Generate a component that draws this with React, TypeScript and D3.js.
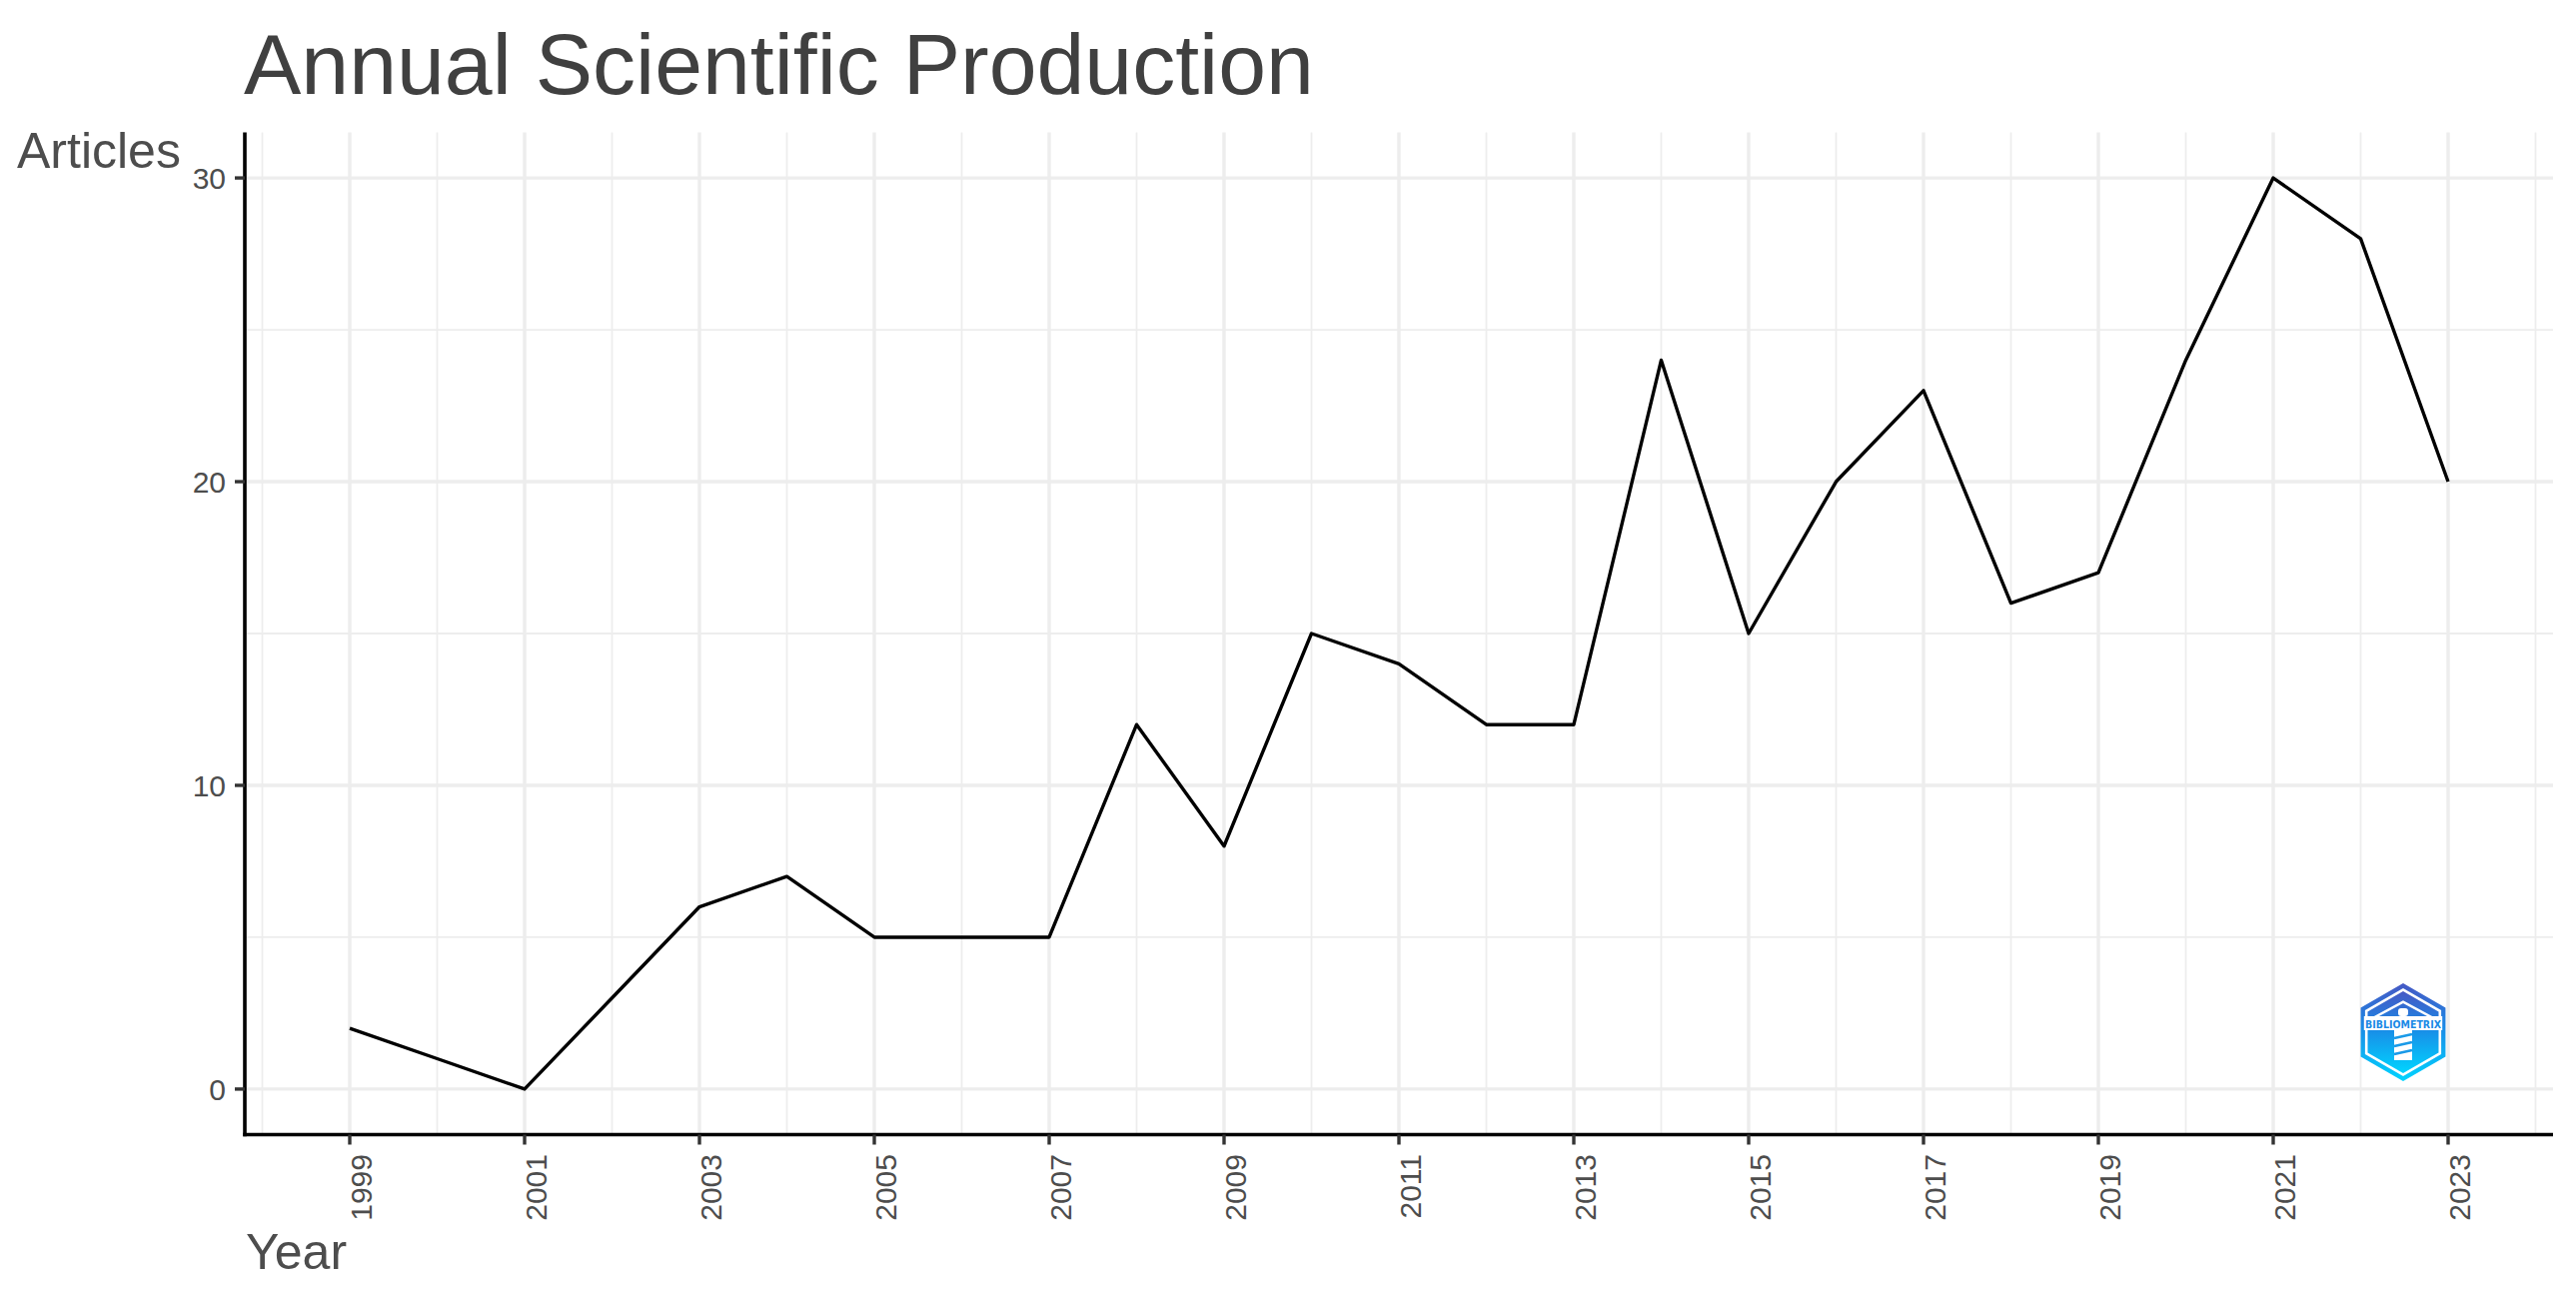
import * as d3 from "d3";

const years = [1999, 2000, 2001, 2002, 2003, 2004, 2005, 2006, 2007, 2008, 2009, 2010, 2011, 2012, 2013, 2014, 2015, 2016, 2017, 2018, 2019, 2020, 2021, 2022, 2023];
const articles = [2, 1, 0, 3, 6, 7, 5, 5, 5, 12, 8, 15, 14, 12, 12, 24, 15, 20, 23, 16, 17, 24, 30, 28, 20];
const xMajor = [1999, 2001, 2003, 2005, 2007, 2009, 2011, 2013, 2015, 2017, 2019, 2021, 2023];
const xMinor = [1998, 2000, 2002, 2004, 2006, 2008, 2010, 2012, 2014, 2016, 2018, 2020, 2022, 2024];
const yMajor = [0, 10, 20, 30];
const yMinor = [5, 15, 25];

const W = 2578;
const H = 1290;
const font = "'Liberation Sans', Arial, Helvetica, sans-serif";

// panel box, ggplot style 5% expansion on both scales
const left = 245;
const right = 2555;
const top = 132.5;
const bottom = 1135.5;

const Logo = ({ cx, cy, r }: { cx: number; cy: number; r: number }) => {
  const hex = (rr: number) =>
    d3.range(6).map(i => {
      const a = (Math.PI / 3) * i - Math.PI / 2;
      return [cx + rr * Math.cos(a), cy + rr * Math.sin(a)].join(",");
    }).join(" ");
  return (
    <g>
      <defs>
        <linearGradient id="bmx" x1="0" y1="0" x2="0" y2="1">
          <stop offset="0" stopColor="#4658c4" />
          <stop offset="0.45" stopColor="#1a8ae6" />
          <stop offset="1" stopColor="#00d4ff" />
        </linearGradient>
      </defs>
      <polygon points={hex(r)} fill="url(#bmx)" />
      <polygon points={hex(r - 5)} fill="#fff" />
      <polygon points={hex(r - 8)} fill="url(#bmx)" />
      {/* roof lines */}
      <polyline points={`${cx - r * 0.62},${cy - 14} ${cx},${cy - r * 0.62} ${cx + r * 0.62},${cy - 14}`} fill="none" stroke="#fff" strokeWidth={2.5} />
      {/* tower */}
      <rect x={cx - 5} y={cy - 24} width={10} height={8} rx={3} fill="#fff" />
      <rect x={cx - 9} y={cy - 2} width={18} height={30} fill="#fff" />
      <path d={`M${cx - 9},${cy + 6} L${cx + 9},${cy + 2} M${cx - 9},${cy + 14} L${cx + 9},${cy + 10} M${cx - 9},${cy + 22} L${cx + 9},${cy + 18}`} stroke="#1a9ae8" strokeWidth={2.5} />
      <rect x={cx - r * 0.8} y={cy - 16} width={r * 1.6} height={14} fill="#fff" />
      <text x={cx} y={cy - 4.5} textAnchor="middle" fontFamily="'DejaVu Sans', sans-serif" fontWeight="bold" fontSize={11} fill="#1a8ae6" textLength={r * 1.55} lengthAdjust="spacingAndGlyphs">BIBLIOMETRIX</text>
    </g>
  );
};

export default function App() {
  const x = d3.scaleLinear().domain([1997.8, 2024.2]).range([left, right]);
  const y = d3.scaleLinear().domain([-1.5, 31.5]).range([bottom, top]);
  const line = d3.line<number>().x((_, i) => x(years[i])).y(d => y(d));

  return (
    <svg width={W} height={H} style={{ position: "absolute", left: 0, top: 0, display: "block", background: "#fff" }}>
      <rect width={W} height={H} fill="#fff" />

      {/* grid */}
      <g stroke="#ededed">
        {yMinor.map(v => <line key={"ym" + v} x1={left} x2={right} y1={y(v)} y2={y(v)} strokeWidth={1.8} />)}
        {xMinor.map(v => <line key={"xm" + v} x1={x(v)} x2={x(v)} y1={top} y2={bottom} strokeWidth={1.8} />)}
        {yMajor.map(v => <line key={"yM" + v} x1={left} x2={right} y1={y(v)} y2={y(v)} strokeWidth={3.4} />)}
        {xMajor.map(v => <line key={"xM" + v} x1={x(v)} x2={x(v)} y1={top} y2={bottom} strokeWidth={3.4} />)}
      </g>

      <Logo cx={2405} cy={1033} r={49} />

      <path d={line(articles) ?? ""} fill="none" stroke="#000" strokeWidth={3.4} strokeLinejoin="round" />

      {/* axes */}
      <line x1={left} x2={left} y1={top} y2={bottom + 1.8} stroke="#000" strokeWidth={3.6} />
      <line x1={left - 1.8} x2={right} y1={bottom} y2={bottom} stroke="#000" strokeWidth={3.6} />

      <g fontFamily={font} fontSize={30} fill="#4d4d4d">
        {yMajor.map(v => (
          <g key={"yt" + v}>
            <line x1={left - 10} x2={left} y1={y(v)} y2={y(v)} stroke="#333" strokeWidth={3.4} />
            <text x={226} y={y(v)} dy="0.36em" textAnchor="end">{v}</text>
          </g>
        ))}
        {xMajor.map(v => (
          <g key={"xt" + v}>
            <line x1={x(v)} x2={x(v)} y1={bottom} y2={bottom + 10} stroke="#333" strokeWidth={3.4} />
            <text transform={`translate(${x(v) + 22},1155) rotate(-90)`} textAnchor="end">{v}</text>
          </g>
        ))}
      </g>

      <text x={244} y={94} fontFamily={font} fontSize={86} fill="#404040">Annual Scientific Production</text>
      <text x={17} y={168} fontFamily={font} fontSize={50} fill="#4d4d4d">Articles</text>
      <text x={246} y={1270} fontFamily={font} fontSize={50} fill="#4d4d4d">Year</text>
    </svg>
  );
}
